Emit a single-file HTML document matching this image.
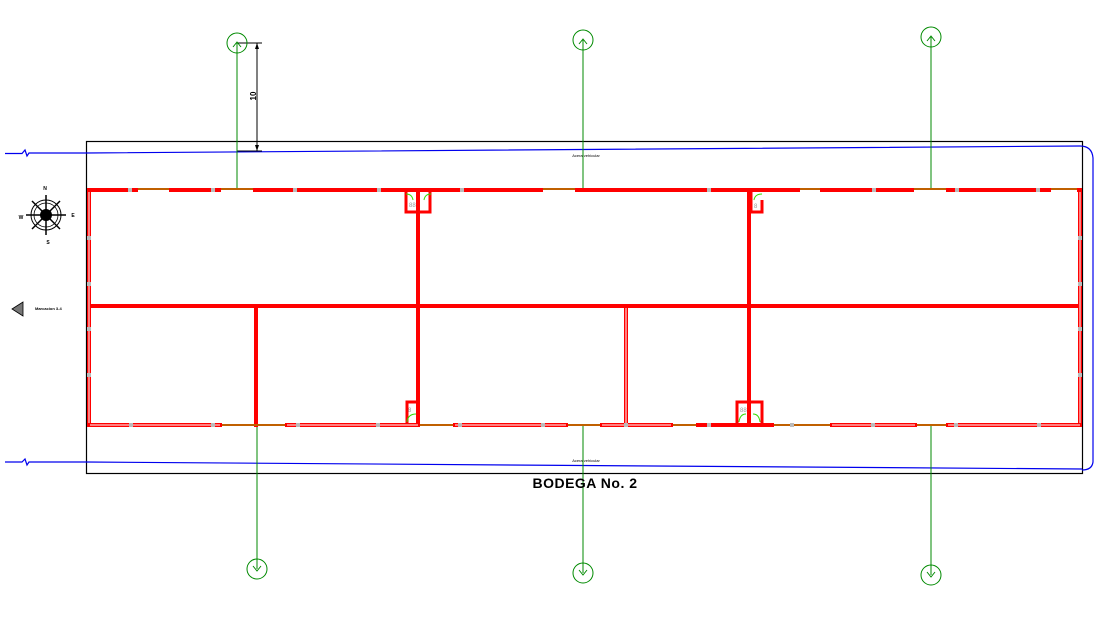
<!DOCTYPE html>
<html><head><meta charset="utf-8"><style>
html,body{margin:0;padding:0;background:#fff;width:1116px;height:625px;overflow:hidden}
svg{display:block}
text{font-family:"Liberation Sans",sans-serif}
</style></head><body>
<svg width="1116" height="625" viewBox="0 0 1116 625" xmlns="http://www.w3.org/2000/svg">
<!-- outer boundary -->
<rect x="86.5" y="141.5" width="996" height="332" fill="none" stroke="#000" stroke-width="1.2"/>
<!-- blue property lines -->
<path d="M5 153.5 L22 153.5 L25 150 L27 156 L29 153 L86 153 L1080 146 Q1092 146 1093 158 L1093 462 Q1092 470 1082 470" fill="none" stroke="#0000ee" stroke-width="1.2"/>
<path d="M5 462 L22 462 L25 459 L27 465 L29 462 L86 462 L1082 469" fill="none" stroke="#0000ee" stroke-width="1.2"/>
<text x="586" y="157" font-size="4" text-anchor="middle">Acera vehicular</text>
<text x="586" y="462" font-size="4" text-anchor="middle">Acera vehicular</text>
<!-- dimension -->
<line x1="257" y1="43" x2="257" y2="151" stroke="#000" stroke-width="1"/>
<line x1="237" y1="43" x2="262" y2="43" stroke="#000" stroke-width="1"/>
<line x1="237" y1="151" x2="262" y2="151" stroke="#000" stroke-width="1"/>
<polygon points="255,145 259,145 257,151" fill="#000"/>
<polygon points="255,49 259,49 257,43" fill="#000"/>
<text x="0" y="0" font-size="8" font-weight="bold" transform="translate(256,96) rotate(-90)" text-anchor="middle">10</text>
<!-- green axis lines -->
<g stroke="#008a00" stroke-width="1" fill="none">
<line x1="237" y1="43" x2="237" y2="188"/><circle cx="237" cy="43" r="10"/>
<line x1="583" y1="40" x2="583" y2="188"/><circle cx="583" cy="40" r="10"/>
<line x1="931" y1="37" x2="931" y2="188"/><circle cx="931" cy="37" r="10"/>
<line x1="257" y1="425" x2="257" y2="569"/><circle cx="257" cy="569" r="10"/>
<line x1="583" y1="425" x2="583" y2="573"/><circle cx="583" cy="573" r="10"/>
<line x1="931" y1="425" x2="931" y2="575"/><circle cx="931" cy="575" r="10"/>
<path d="M233 47 L237 42 L241 47 M579 44 L583 39 L587 44 M927 41 L931 36 L935 41 M253 566 L257 571 L261 566 M579 570 L583 575 L587 570 M927 572 L931 577 L935 572"/>
</g>
<!-- walls -->
<g stroke="#ff0000" stroke-width="4" fill="none">
<path d="M88 190 H138 M169 190 H221 M253 190 H543 M575 190 H800 M820 190 H914 M946 190 H1051 M1077 190 H1082"/>
<path d="M88 425 H222 M285 425 H420 M453 425 H568 M600 425 H673 M696 425 H774 M830 425 H917 M946 425 H1082"/>
<line x1="89" y1="188" x2="89" y2="427"/>
<line x1="1080" y1="188" x2="1080" y2="427"/>
<line x1="88" y1="306" x2="1082" y2="306"/>
<line x1="418" y1="188" x2="418" y2="427"/>
<line x1="749" y1="188" x2="749" y2="427"/>
<line x1="256" y1="306" x2="256" y2="427"/>
<line x1="626" y1="306" x2="626" y2="427"/>
<!-- bathrooms -->
<path d="M406 192 V212 H430 V192" stroke-width="3"/>
<path d="M751 192 V212 H762 V200" stroke-width="3"/>
<path d="M407 423 V402 H417" stroke-width="3"/>
<path d="M737 423 V402 H762 V423" stroke-width="3"/>
</g>
<g stroke="#fff" stroke-width="1">
<line x1="89" y1="192" x2="89" y2="423"/><line x1="1080" y1="192" x2="1080" y2="423"/>
<line x1="626" y1="308" x2="626" y2="423"/>
<line x1="90" y1="425" x2="220" y2="425"/><line x1="287" y1="425" x2="418" y2="425"/>
<line x1="455" y1="425" x2="566" y2="425"/><line x1="602" y1="425" x2="671" y2="425"/>
<line x1="832" y1="425" x2="915" y2="425"/><line x1="948" y1="425" x2="1080" y2="425"/>
</g>
<g stroke="#c06000" stroke-width="2">
<path d="M138 189 H169 M221 189 H253 M543 189 H575 M800 189 H820 M914 189 H946 M1051 189 H1077"/>
<path d="M222 425 H285 M420 425 H453 M568 425 H600 M673 425 H696 M774 425 H830 M917 425 H946"/>
</g>
<g fill="#bbb">
<rect x="128" y="188" width="4" height="4"/><rect x="211" y="188" width="4" height="4"/><rect x="293" y="188" width="4" height="4"/>
<rect x="377" y="188" width="4" height="4"/><rect x="460" y="188" width="4" height="4"/><rect x="707" y="188" width="4" height="4"/>
<rect x="872" y="188" width="4" height="4"/><rect x="955" y="188" width="4" height="4"/><rect x="1036" y="188" width="4" height="4"/>
<rect x="129" y="423" width="4" height="4"/><rect x="211" y="423" width="4" height="4"/><rect x="296" y="423" width="4" height="4"/>
<rect x="376" y="423" width="4" height="4"/><rect x="458" y="423" width="4" height="4"/><rect x="541" y="423" width="4" height="4"/>
<rect x="624" y="423" width="4" height="4"/><rect x="707" y="423" width="4" height="4"/><rect x="790" y="423" width="4" height="4"/>
<rect x="871" y="423" width="4" height="4"/><rect x="954" y="423" width="4" height="4"/><rect x="1037" y="423" width="4" height="4"/>
<rect x="87" y="236" width="4" height="4"/><rect x="87" y="282" width="4" height="4"/><rect x="1078" y="236" width="4" height="4"/><rect x="1078" y="282" width="4" height="4"/>
<rect x="87" y="327" width="4" height="4"/><rect x="87" y="373" width="4" height="4"/><rect x="1078" y="327" width="4" height="4"/><rect x="1078" y="373" width="4" height="4"/>
</g>
<g fill="none" stroke="#33dd00" stroke-width="1">
<path d="M406 194 Q412 194 413 200 M431 194 Q425 194 424 200 M762 194 Q755 194 754 200 M407 422 Q408 414 416 414 M739 422 Q740 414 746 414 M760 422 Q759 414 753 414"/>
</g>
<g fill="#999" font-size="6"><text x="409" y="207">88</text><text x="754" y="208">8</text><text x="408" y="412">8</text><text x="740" y="412">88</text></g>
<!-- compass -->
<g stroke="#000" fill="none">
<circle cx="46" cy="215" r="15" stroke-width="1"/>
<circle cx="46" cy="215" r="12" stroke-width="0.8"/>
<path d="M46 195 V235 M26 215 H66 M32 201 L60 229 M60 201 L32 229" stroke-width="1.5"/>
</g>
<circle cx="46" cy="215" r="6" fill="#000"/>
<g font-size="5" font-weight="bold" text-anchor="middle"><text x="45" y="190">N</text><text x="73" y="217">E</text><text x="21" y="219">W</text><text x="48" y="244">S</text></g>
<polygon points="12,309 23,302 23,316" fill="#777" stroke="#000" stroke-width="0.8"/>
<text x="35" y="310" font-size="4" font-weight="bold">Marcacion 3-4</text>
<text x="585" y="488" font-size="14" font-weight="bold" text-anchor="middle" letter-spacing="0.5">BODEGA No. 2</text>
</svg>
</body></html>
